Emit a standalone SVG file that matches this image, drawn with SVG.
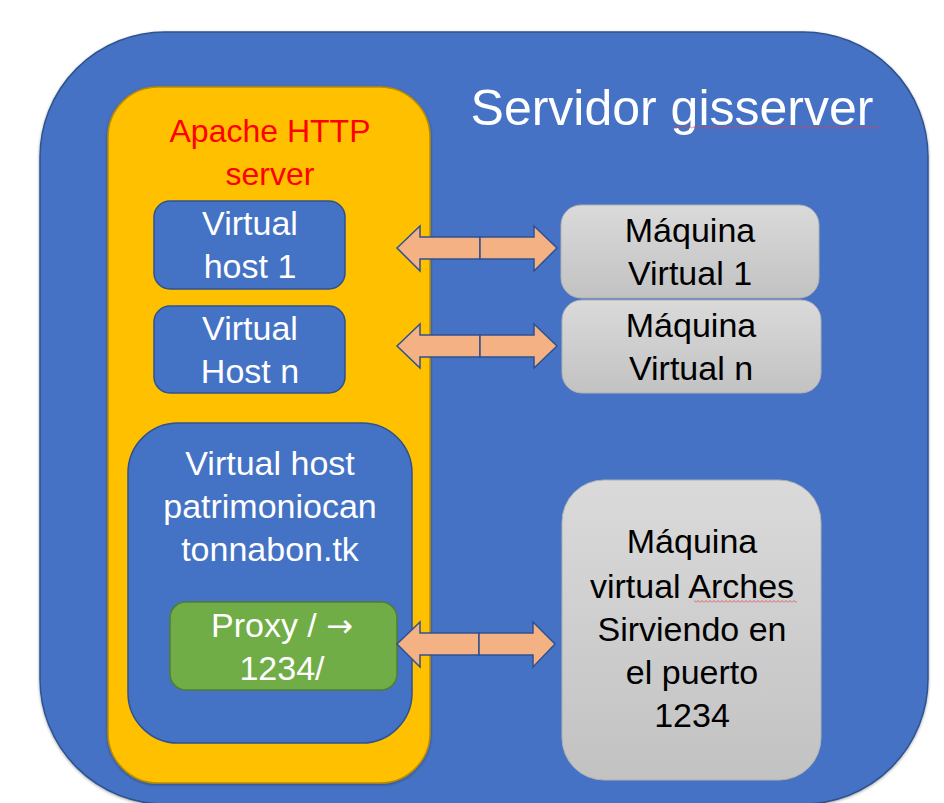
<svg xmlns="http://www.w3.org/2000/svg" width="944" height="803" viewBox="0 0 944 803">
<defs>
<linearGradient id="gray" x1="0" y1="0" x2="0" y2="1">
<stop offset="0" stop-color="#DADADA"/>
<stop offset="1" stop-color="#C2C2C2"/>
</linearGradient>
<pattern id="squig" width="4" height="3" patternUnits="userSpaceOnUse">
<path d="M0,2.5 L2,0.5 L4,2.5" stroke="#E04040" fill="none" stroke-width="0.8"/>
</pattern>
<filter id="sh" x="-5%" y="-5%" width="110%" height="110%">
<feGaussianBlur in="SourceAlpha" stdDeviation="1.5"/>
<feOffset dx="0" dy="1" result="b"/>
<feComponentTransfer><feFuncA type="linear" slope="0.35"/></feComponentTransfer>
<feMerge><feMergeNode/><feMergeNode in="SourceGraphic"/></feMerge>
</filter>
</defs>
<style>
text{font-family:"Liberation Sans",Arial,sans-serif;text-anchor:middle}
.blue{fill:#4472C4;stroke:#2F528F;stroke-width:1.5}
.yellow{fill:#FFC000;stroke:#BC8C00;stroke-width:1.5}
.green{fill:#70AD47;stroke:#507E32;stroke-width:1.5}
.gray{fill:url(#gray);stroke:#B0B0B0;stroke-width:1}
.arrow{fill:#F4B183;stroke:#2F528F;stroke-width:1.5;stroke-linejoin:miter}
.w{fill:#FFFFFF;font-size:34px}
.k{fill:#000000;font-size:34px}
</style>
<rect width="944" height="803" fill="#FFFFFF"/>
<g id="servidor">
<rect class="blue" x="40" y="32" width="888" height="772" rx="125" ry="125" filter="url(#sh)"/>
<text x="672" y="125" style="fill:#FFFFFF;font-size:50px">Servidor gisserver</text>
<rect x="673" y="126" width="206" height="3" fill="url(#squig)"/>
</g>
<g id="apache">
<rect class="yellow" x="108" y="87" width="322" height="696" rx="50" ry="50" filter="url(#sh)"/>
<text x="270" y="142" style="fill:#FF0000;font-size:32px">Apache HTTP</text>
<text x="270" y="185" style="fill:#FF0000;font-size:32px">server</text>
</g>
<g id="vhost1">
<rect class="blue" x="154" y="201" width="191" height="88" rx="16" ry="16"/>
<text class="w" x="250" y="235">Virtual</text>
<text class="w" x="250" y="278">host 1</text>
</g>
<g id="vhostn">
<rect class="blue" x="154" y="306" width="191" height="87" rx="16" ry="16"/>
<text class="w" x="250" y="340">Virtual</text>
<text class="w" x="250" y="383">Host n</text>
</g>
<g id="vhostpat">
<rect class="blue" x="128" y="423" width="284" height="320" rx="50" ry="50"/>
<text class="w" x="270" y="475">Virtual host</text>
<text class="w" x="270" y="518">patrimoniocan</text>
<text class="w" x="270" y="561">tonnabon.tk</text>
</g>
<g id="proxy">
<rect class="green" x="170" y="602" width="227" height="88" rx="16" ry="16"/>
<text class="w" x="282" y="637">Proxy / <tspan style="font-family:'DejaVu Sans',sans-serif;font-size:32px">→</tspan></text>
<text class="w" x="282" y="680">1234/</text>
</g>
<g id="mv1">
<rect class="gray" x="561" y="205" width="258" height="93" rx="20" ry="20"/>
<text class="k" x="690" y="242">Máquina</text>
<text class="k" x="690" y="285">Virtual 1</text>
</g>
<g id="mvn">
<rect class="gray" x="562" y="300" width="259" height="93" rx="20" ry="20"/>
<text class="k" x="691" y="337">Máquina</text>
<text class="k" x="691" y="380">Virtual n</text>
</g>
<g id="mvarches">
<rect class="gray" x="562" y="480" width="259" height="300" rx="42" ry="42"/>
<text class="k" x="692" y="553">Máquina</text>
<text class="k" x="692" y="598">virtual Arches</text>
<rect x="694" y="600" width="103" height="3" fill="url(#squig)"/>
<text class="k" x="692" y="641">Sirviendo en</text>
<text class="k" x="692" y="684">el puerto</text>
<text class="k" x="692" y="727">1234</text>
</g>
<g id="connectors">
<path class="arrow" d="M480,237 L420,237 L420,226 L397,248 L420,271 L420,259 L480,259 Z"/>
<path class="arrow" d="M480,237 L534,237 L534,226 L557,248 L534,271 L534,259 L480,259 Z"/>
<path class="arrow" d="M480,335 L420,335 L420,324 L397,346 L420,368 L420,357 L480,357 Z"/>
<path class="arrow" d="M480,335 L534,335 L534,324 L557,346 L534,368 L534,357 L480,357 Z"/>
<path class="arrow" d="M479,633 L420,633 L420,622 L397,644 L420,667 L420,655 L479,655 Z"/>
<path class="arrow" d="M479,633 L533,633 L533,622 L555,644 L533,667 L533,655 L479,655 Z"/>
</g>
</svg>
